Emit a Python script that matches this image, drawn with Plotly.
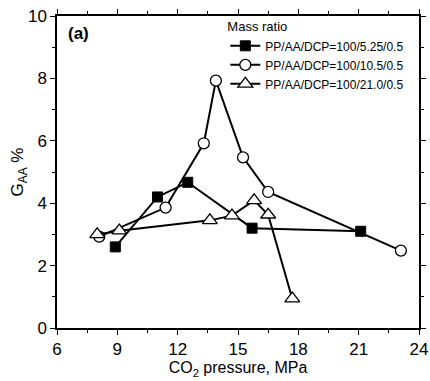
import plotly.graph_objects as go

names = ["PP/AA/DCP=100/5.25/0.5", "PP/AA/DCP=100/10.5/0.5", "PP/AA/DCP=100/21.0/0.5"]
x_sq = [8.9, 11.0, 12.5, 15.7, 21.1]
y_sq = [2.6, 4.2, 4.67, 3.2, 3.1]
x_ci = [8.1, 11.4, 13.3, 13.9, 15.25, 16.5, 23.1]
y_ci = [2.93, 3.86, 5.92, 7.93, 5.47, 4.36, 2.48]
x_tr = [8.0, 9.1, 13.6, 14.7, 15.8, 16.5, 17.7]
y_tr = [3.0, 3.12, 3.45, 3.6, 4.09, 3.63, 0.94]

FONT = "Liberation Sans, Arial, sans-serif"
fig = go.Figure()
fig.add_trace(go.Scatter(x=x_sq, y=y_sq, name=names[0], mode="lines+markers",
                         line=dict(color="black", width=2),
                         marker=dict(symbol="square", size=10, color="black",
                                     line=dict(color="black", width=1))))
fig.add_trace(go.Scatter(x=x_ci, y=y_ci, name=names[1], mode="lines+markers",
                         line=dict(color="black", width=2),
                         marker=dict(symbol="circle", size=11, color="white",
                                     line=dict(color="black", width=1.3))))
fig.add_trace(go.Scatter(x=x_tr, y=y_tr, name=names[2], mode="lines+markers",
                         line=dict(color="black", width=2),
                         marker=dict(symbol="triangle-up", size=13, color="white",
                                     line=dict(color="black", width=1.3))))

axis_common = dict(showline=True, linecolor="black", linewidth=1.5, mirror="allticks",
                   ticks="outside", ticklen=5, tickwidth=1, tickcolor="black",
                   showgrid=False, zeroline=False,
                   tickfont=dict(family=FONT, size=17, color="black"))
fig.update_xaxes(range=[6, 24], tickvals=[6, 9, 12, 15, 18, 21, 24],
                 minor=dict(ticks="outside", ticklen=3, tickcolor="black", dtick=1.5, tick0=6),
                 title=dict(text="CO<sub>2</sub> pressure, MPa", font=dict(family=FONT, size=16, color="black"), standoff=3),
                 **axis_common)
fig.update_yaxes(range=[0, 10], tickvals=[0, 2, 4, 6, 8, 10],
                 minor=dict(ticks="outside", ticklen=3, tickcolor="black", dtick=1, tick0=0),
                 title=dict(text="G<sub>AA</sub> %", font=dict(family=FONT, size=17, color="black"), standoff=0),
                 **axis_common)
fig.update_layout(width=430, height=381, margin=dict(l=57, r=11, t=16, b=53, autoexpand=False),
                  plot_bgcolor="white", paper_bgcolor="white",
                  font=dict(family=FONT, color="black"),
                  legend=dict(x=0.465, y=1.005, xanchor="left", yanchor="top",
                              bgcolor="rgba(0,0,0,0)", font=dict(family=FONT, size=12, color="black"),
                              title=dict(text="Mass ratio", font=dict(family=FONT, size=13)),
                              tracegroupgap=0, itemwidth=30),
                  annotations=[dict(text="<b>(a)</b>", x=0.025, y=0.982, xref="paper", yref="paper",
                                    xanchor="left", yanchor="top", showarrow=False,
                                    font=dict(family=FONT, size=17, color="black"))])
fig.write_html("out.html", config={"displayModeBar": False},
               post_script="document.body.style.margin='0';document.body.style.overflow='hidden';")
